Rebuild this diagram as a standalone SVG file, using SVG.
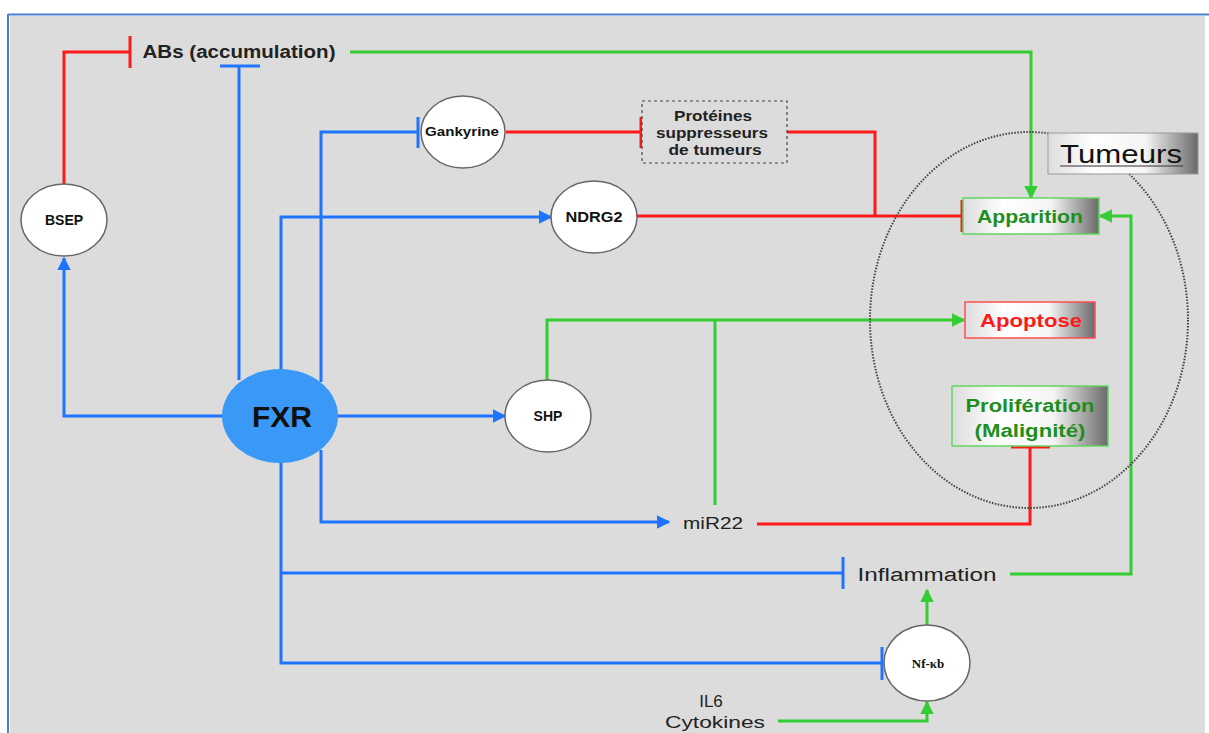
<svg xmlns="http://www.w3.org/2000/svg" width="1209" height="733" viewBox="0 0 1209 733">
<style>
  .bg{fill:#dcdcdc}
  .node{fill:#fff;stroke:#666;stroke-width:1.5}
  .lbl{font-family:"Liberation Sans",Arial,sans-serif;font-weight:bold;fill:#111;text-anchor:middle}
  .txt{font-family:"Liberation Sans",Arial,sans-serif;fill:#222;text-anchor:middle}
  .gt{fill:#1e8f1e;font-weight:bold}
  .rt{fill:#ff1a1a;font-weight:bold}
  .b{fill:none;stroke:#1e74ff;stroke-width:3}
  .r{fill:none;stroke:#ff1a1a;stroke-width:3}
  .g{fill:none;stroke:#33cc33;stroke-width:3}
</style>
<defs>
  <linearGradient id="shade" x1="0" y1="0" x2="1" y2="0">
    <stop offset="0" stop-color="#dcdcdc"/>
    <stop offset="0.3" stop-color="#ffffff"/>
    <stop offset="0.65" stop-color="#f4f4f4"/>
    <stop offset="1" stop-color="#6a6a6a"/>
  </linearGradient>
  <marker id="ab" viewBox="0 0 10 10" refX="9" refY="5" markerWidth="4.5" markerHeight="4.5" orient="auto" markerUnits="strokeWidth"><path d="M0,0 L10,5 L0,10 z" fill="#1e74ff"/></marker>
  <marker id="ag" viewBox="0 0 10 10" refX="9" refY="5" markerWidth="4.5" markerHeight="4.5" orient="auto" markerUnits="strokeWidth"><path d="M0,0 L10,5 L0,10 z" fill="#33cc33"/></marker>
</defs>

<rect x="0" y="0" width="1209" height="733" fill="#fff"/>
<rect class="bg" x="10" y="16" width="1195" height="717"/>
<line x1="8" y1="14.5" x2="1209" y2="14.5" stroke="#4a7fd6" stroke-width="2"/>
<line x1="8" y1="14" x2="8" y2="733" stroke="#4a7fd6" stroke-width="2"/>

<g id="connectors">
  <!-- red -->
  <path class="r" d="M64,184 V52 H130"/>
  <line class="r" x1="130" y1="36" x2="130" y2="68"/>
  <path class="r" d="M506,132 H641"/>
  <line class="r" x1="641" y1="117" x2="641" y2="148"/>
  <path class="r" d="M787,132 H875 V216"/>
  <path class="r" d="M637,216 H962"/>
  <line class="r" x1="962" y1="200" x2="962" y2="232"/>
  <path class="r" d="M757,524 H1030 V447"/>
  <line class="r" x1="1011" y1="447" x2="1050" y2="447"/>
  <!-- blue -->
  <path class="b" d="M223,416 H64 V258" marker-end="url(#ab)"/>
  <path class="b" d="M239,380 V66"/>
  <line class="b" x1="220" y1="66" x2="260" y2="66"/>
  <path class="b" d="M321,382 V132 H418"/>
  <line class="b" x1="418" y1="117" x2="418" y2="148"/>
  <path class="b" d="M281,370 V217 H551" marker-end="url(#ab)"/>
  <path class="b" d="M338,416 H505" marker-end="url(#ab)"/>
  <path class="b" d="M321,450 V522 H669" marker-end="url(#ab)"/>
  <path class="b" d="M281,462 V663 H882"/>
  <path class="b" d="M281,573 H843"/>
  <line class="b" x1="843" y1="557" x2="843" y2="589"/>
  <line class="b" x1="882" y1="647" x2="882" y2="680"/>
  <!-- green -->
  <path class="g" d="M350,52 H1031 V198" marker-end="url(#ag)"/>
  <path class="g" d="M547,380 V320 H964" marker-end="url(#ag)"/>
  <path class="g" d="M715,505 V320"/>
  <path class="g" d="M1010,574 H1131 V216 H1100" marker-end="url(#ag)"/>
  <path class="g" d="M927,625 V590" marker-end="url(#ag)"/>
  <path class="g" d="M778,721 H927 V702" marker-end="url(#ag)"/>
</g>

<g id="tumeurs-zone">
  <ellipse cx="1029" cy="320" rx="159" ry="188" fill="none" stroke="#444" stroke-width="2" stroke-dasharray="1.5,1.5"/>
</g>

<g id="tumeurs">
  <rect x="1048" y="133" width="150" height="41" fill="url(#shade)" stroke="#999" stroke-width="1"/>
  <text class="txt" x="1121" y="163" font-size="26" textLength="122" lengthAdjust="spacingAndGlyphs" style="fill:#111">Tumeurs</text>
  <line x1="1060" y1="166" x2="1183" y2="166" stroke="#333" stroke-width="1.2"/>
</g>

<g id="abs">
  <text class="txt" x="239" y="58" font-size="18" font-weight="600" textLength="193" lengthAdjust="spacingAndGlyphs">ABs (accumulation)</text>
</g>

<g id="bsep">
  <ellipse class="node" cx="64" cy="220" rx="43" ry="36"/>
  <text class="lbl" x="64" y="225" font-size="14">BSEP</text>
</g>

<g id="gankyrine">
  <ellipse class="node" cx="463" cy="132" rx="42" ry="36"/>
  <text class="lbl" x="462" y="136" font-size="12.5" textLength="74" lengthAdjust="spacingAndGlyphs">Gankyrine</text>
</g>

<g id="proteines">
  <rect x="642" y="101" width="145" height="62" fill="#dcdcdc" stroke="#444" stroke-width="1.2" stroke-dasharray="3,3"/>
  <text class="lbl" x="713" y="121" font-size="14" textLength="78" lengthAdjust="spacingAndGlyphs" style="fill:#222">Protéines</text>
  <text class="lbl" x="712" y="138" font-size="14" textLength="112" lengthAdjust="spacingAndGlyphs" style="fill:#222">suppresseurs</text>
  <text class="lbl" x="715" y="155" font-size="14" textLength="93" lengthAdjust="spacingAndGlyphs" style="fill:#222">de tumeurs</text>
</g>

<g id="ndrg2">
  <ellipse class="node" cx="594" cy="217" rx="43" ry="36"/>
  <text class="lbl" x="594" y="222" font-size="14" textLength="57" lengthAdjust="spacingAndGlyphs">NDRG2</text>
</g>

<g id="fxr">
  <ellipse cx="280" cy="416" rx="58" ry="47" fill="#3a98f7"/>
  <text class="lbl" x="282" y="427" font-size="30">FXR</text>
</g>

<g id="shp">
  <ellipse class="node" cx="548" cy="416" rx="43" ry="36"/>
  <text class="lbl" x="548" y="421" font-size="14">SHP</text>
</g>

<g id="mir22">
  <text class="txt" x="713" y="529" font-size="17" textLength="60" lengthAdjust="spacingAndGlyphs">miR22</text>
</g>

<g id="inflammation">
  <text class="txt" x="927" y="581" font-size="18" textLength="139" lengthAdjust="spacingAndGlyphs">Inflammation</text>
</g>

<g id="nfkb">
  <ellipse class="node" cx="927" cy="663" rx="43" ry="38"/>
  <text class="lbl" x="928" y="668" font-size="13" style="font-family:'Liberation Serif',serif">Nf-κb</text>
</g>

<g id="il6">
  <text class="txt" x="711" y="707" font-size="17">IL6</text>
  <text class="txt" x="715" y="728" font-size="17" textLength="100" lengthAdjust="spacingAndGlyphs">Cytokines</text>
</g>

<g id="apparition">
  <rect x="963" y="198" width="136" height="36" fill="url(#shade)" stroke="#5fd65f" stroke-width="1.5"/>
  <text class="txt gt" x="1030" y="223" font-size="18" textLength="106" lengthAdjust="spacingAndGlyphs">Apparition</text>
</g>

<g id="apoptose">
  <rect x="965" y="302" width="130" height="36" fill="url(#shade)" stroke="#ff4d4d" stroke-width="1.5"/>
  <text class="txt rt" x="1031" y="327" font-size="18" textLength="102" lengthAdjust="spacingAndGlyphs">Apoptose</text>
</g>

<g id="proliferation">
  <rect x="952" y="386" width="156" height="60" fill="url(#shade)" stroke="#5fd65f" stroke-width="1.5"/>
  <text class="txt gt" x="1030" y="412" font-size="18" textLength="129" lengthAdjust="spacingAndGlyphs">Prolifération</text>
  <text class="txt gt" x="1030" y="437" font-size="18" textLength="111" lengthAdjust="spacingAndGlyphs">(Malignité)</text>
</g>
</svg>
